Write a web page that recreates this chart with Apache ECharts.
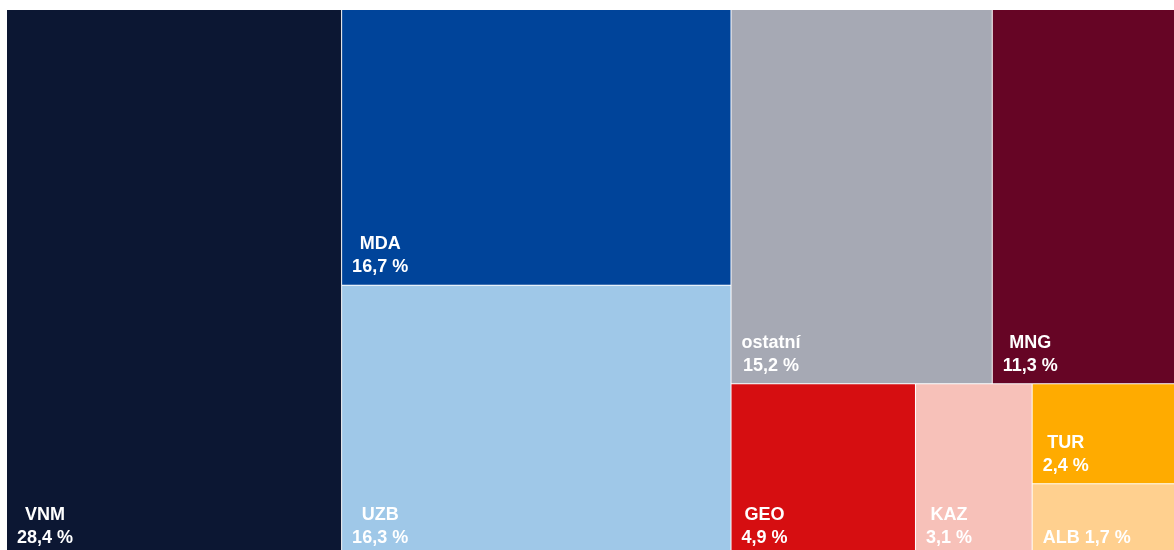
<!DOCTYPE html>
<html>
<head>
<meta charset="utf-8">
<script src="https://cdn.jsdelivr.net/npm/echarts@6/dist/echarts.min.js"></script>
<style>
  html, body { margin: 0; padding: 0; background: #ffffff; overflow: hidden; }
  #chart { width: 1174px; height: 550px; }
</style>
</head>
<body>
<div id="chart"></div>
<script>
// země a jejich podíl (%)
var names = ['VNM', 'MDA', 'UZB', 'ostatní', 'MNG', 'GEO', 'KAZ', 'TUR', 'ALB'];
var shares = [28.4, 16.7, 16.3, 15.2, 11.3, 4.9, 3.1, 2.4, 1.7];
var colors = ['#0c1733', '#00449a', '#9fc8e8', '#a6a9b4', '#660525', '#d60e11', '#f7c1b9', '#ffab00', '#ffd08f'];

var FONT = 'Liberation Sans, Arial, sans-serif';
var FONT_SIZE = 18;
var LINE_H = 23;

function fmt(v) {
    return v.toFixed(1).replace('.', ',') + ' %';
}

var ctx = document.createElement('canvas').getContext('2d');
ctx.font = 'bold ' + FONT_SIZE + 'px ' + FONT;
function textW(s) {
    return ctx.measureText(s).width;
}

var chartDom = document.getElementById('chart');
var myChart = echarts.init(chartDom);

function buildData(heights) {
    var data = [];
    for (let i = 0; i < names.length; i++) {
        let n = names[i];
        let v = fmt(shares[i]);
        let oneLine = n == 'ALB';
        let label = {};
        if (oneLine) {
            label.formatter = '{v|' + n + ' ' + v + '}';
        } else {
            // lines centred on each other, block left aligned
            let wn = textW(n), wv = textW(v);
            let w = Math.max(wn, wv);
            label.formatter = '{n|' + n + '}\n{v|' + v + '}';
            label.rich = {
                n: { padding: [0, 0, 0, (w - wn) / 2] },
                v: { padding: [0, 0, 0, (w - wv) / 2] }
            };
        }
        if (heights && heights[n]) {
            let h = heights[n];
            let blockH = (oneLine ? 1 : 2) * LINE_H;
            let gap = h.bottom ? 4 : 6;
            label.padding = [Math.max(h.height - blockH - gap, 0), 0, 0, 10];
        }
        data.push({
            name: n,
            value: shares[i],
            itemStyle: { color: colors[i] },
            label: label
        });
    }
    return data;
}

function makeOption(data) {
    var txt = { color: '#ffffff', fontFamily: FONT, fontWeight: 'bold', fontSize: FONT_SIZE, lineHeight: LINE_H, align: 'left' };
    return {
        animation: false,
        series: [
            {
                type: 'treemap',
                // the original picture is cropped a little on the right and bottom
                left: 7,
                top: 10,
                right: -12,
                bottom: -4,
                squareRatio: 1,
                roam: false,
                nodeClick: false,
                breadcrumb: { show: false },
                itemStyle: {
                    borderColor: '#ffffff',
                    borderWidth: 0,
                    gapWidth: 1
                },
                label: Object.assign({
                    show: true,
                    position: 'insideTopLeft',
                    verticalAlign: 'top',
                    rich: { n: txt, v: txt }
                }, txt),
                data: data
            }
        ]
    };
}

var option = makeOption(buildData(null));
option && myChart.setOption(option);

// second pass: push labels to the bottom of each box using the library's layout
var tree = myChart.getModel().getSeriesByIndex(0).getData().tree;
var rootH = tree.root.getLayout().height;
var heights = {};
tree.root.children.forEach(function (node) {
    var lay = node.getLayout();
    heights[node.name] = { height: lay.height, bottom: lay.y + lay.height > rootH - 2 };
});
myChart.setOption(makeOption(buildData(heights)));
</script>
</body>
</html>
